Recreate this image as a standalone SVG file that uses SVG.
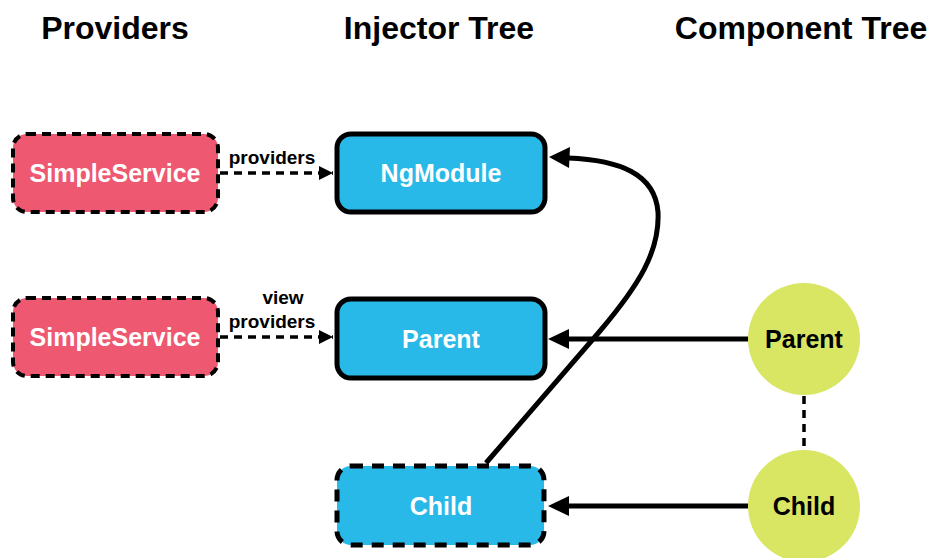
<svg xmlns="http://www.w3.org/2000/svg" width="932" height="558" viewBox="0 0 932 558">
<style>
text{font-family:"Liberation Sans",Arial,sans-serif;font-weight:bold;text-anchor:middle}
.h{font-size:32px;fill:#000}
.svc{fill:#EE5870;stroke:#000;stroke-width:4;stroke-dasharray:9 6}
.inj{fill:#29B9E8;stroke:#000;stroke-width:5}
.injd{fill:#29B9E8;stroke:#000;stroke-width:5;stroke-dasharray:12 9}
.cmp{fill:#D9E664}
.bt{font-size:25px;fill:#fff}
.ct{font-size:25px;fill:#000}
.lbl{font-size:19px;fill:#000}
.solid{fill:none;stroke:#000;stroke-width:5}
.dash{fill:none;stroke:#000;stroke-width:3.5;stroke-dasharray:8 6}
</style>
<defs>
<marker id="small" markerUnits="userSpaceOnUse" markerWidth="14" markerHeight="14" refX="14" refY="7" orient="auto" viewBox="0 0 14 14">
<path d="M0 0 L14 7 L0 14 Z" fill="#000"/>
</marker>
</defs>
<rect width="932" height="558" fill="#fff"/>
<g id="headers">
<text class="h" x="115" y="39">Providers</text>
<text class="h" x="439" y="39">Injector Tree</text>
<text class="h" x="801" y="39">Component Tree</text>
</g>
<g id="connectors">
<path class="dash" d="M220 173 L333 173" marker-end="url(#small)"/>
<text class="lbl" x="272" y="164">providers</text>
<path class="dash" d="M220 337 L333 337" marker-end="url(#small)"/>
<text class="lbl" x="283" y="304">view</text>
<text class="lbl" x="272" y="328">providers</text>
<path class="solid" d="M748 339 L567 339"/>
<path d="M548 339 L569 329 L569 349 Z" fill="#000"/>
<path class="solid" d="M748 506 L567 506"/>
<path d="M548 506 L569 496 L569 516 Z" fill="#000"/>
<path class="solid" d="M486 463 L600 331 C638 286 660 252 658 212 C655 174 620 160 568 158"/>
<path d="M549 157 L570 147 L569 168 Z" fill="#000"/>
<path class="dash" d="M804 396 L804 450"/>
</g>
<g id="svc1">
<rect class="svc" x="13" y="134" width="205" height="78" rx="14"/>
<text class="bt" x="115" y="182">SimpleService</text>
</g>
<g id="svc2">
<rect class="svc" x="13" y="298" width="205" height="78" rx="14"/>
<text class="bt" x="115" y="346">SimpleService</text>
</g>
<g id="ngmodule">
<rect class="inj" x="337" y="134" width="208" height="78" rx="14"/>
<text class="bt" x="441" y="182">NgModule</text>
</g>
<g id="parent-inj">
<rect class="inj" x="337" y="299" width="208" height="79" rx="14"/>
<text class="bt" x="441" y="348">Parent</text>
</g>
<g id="child-inj">
<rect class="injd" x="337" y="466" width="207" height="79" rx="14"/>
<text class="bt" x="441" y="515">Child</text>
</g>
<g id="parent-cmp">
<circle class="cmp" cx="804" cy="339" r="56"/>
<text class="ct" x="804" y="348">Parent</text>
</g>
<g id="child-cmp">
<circle class="cmp" cx="804" cy="506" r="56"/>
<text class="ct" x="804" y="515">Child</text>
</g>
</svg>
